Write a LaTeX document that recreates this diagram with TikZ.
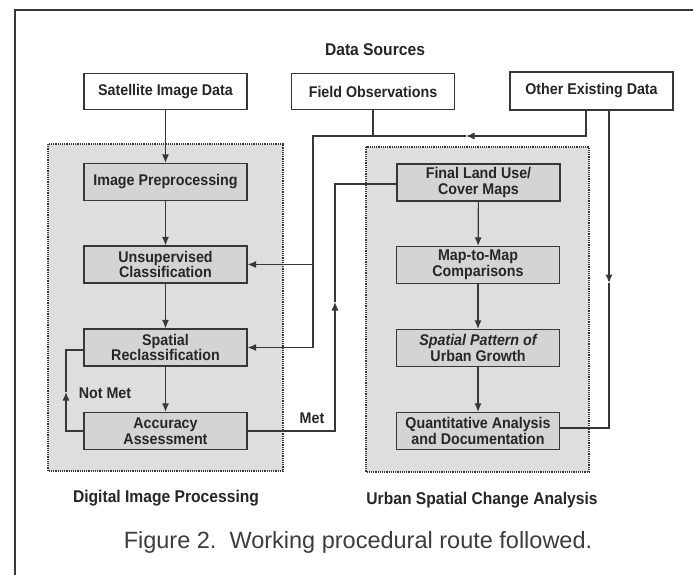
\documentclass[tikz,border=0pt]{standalone}
\usepackage{fontspec}
\setmainfont{Liberation Sans}
\newfontfamily\boxfont[FakeStretch=0.92]{Liberation Sans}
\usetikzlibrary{arrows.meta}
\definecolor{linegray}{RGB}{55,55,55}
\definecolor{panelgray}{RGB}{222,222,222}
\definecolor{boxgray}{RGB}{212,212,212}
\definecolor{captiongray}{RGB}{60,60,60}
\tikzset{
  srcbox/.style={draw=linegray, line width=1.2pt, fill=white, text=black!85,
    minimum width=163pt, minimum height=36pt, inner sep=0pt, align=center,
    font=\boxfont\bfseries\fontsize{15.5}{15.5}\selectfont},
  procbox/.style={srcbox, fill=boxgray, minimum height=37pt},
  panel/.style={draw=linegray, line width=1.2pt, densely dotted, fill=panelgray},
  title/.style={text=black!85, font=\boxfont\bfseries\fontsize{17}{17}\selectfont},
  tag/.style={text=black!85, font=\boxfont\bfseries\fontsize{15.5}{15.5}\selectfont},
  wire/.style={draw=linegray, line width=1.2pt},
  flow/.style={wire, -{Latex[length=8.5pt,width=7pt]}},
}
\begin{document}
\begin{tikzpicture}[x=1pt,y=-1pt]
	\useasboundingbox (0,0) rectangle (693,575);
	% page frame
	\draw[wire] (15,575) -- (15,10) -- (693,10);
	% the two shaded panels
	\filldraw[panel] (48,144) rectangle (283,471);
	\filldraw[panel] (366,147) rectangle (589,472);
	% data sources
	\node[title] (src) at (375,50) {Data Sources};
	\node[srcbox] (sat) at (165.5,91.5) {Satellite Image Data};
	\node[srcbox] (field) at (373,91.5) {Field Observations};
	\node[srcbox, minimum height=38pt] (other) at (591.5,91) {Other Existing Data};
	% digital image processing
	\node[procbox] (prep) at (165.5,182) {Image Preprocessing};
	\node[procbox] (unsup) at (165.5,264.5) {Unsupervised\\Classification};
	\node[procbox] (reclass) at (165.5,347.5) {Spatial\\Reclassification};
	\node[procbox] (accu) at (165.5,431) {Accuracy\\Assessment};
	% urban spatial change analysis
	\node[procbox] (final) at (478.5,182.5) {Final Land Use/\\Cover Maps};
	\node[procbox] (m2m) at (478,265) {Map-to-Map\\Comparisons};
	\node[procbox] (pattern) at (478,348) {{\itshape Spatial Pattern of}\\Urban Growth};
	\node[procbox] (quant) at (478,431) {Quantitative Analysis\\and Documentation};
	% labels
	\node[title] (dip) at (166,498) {Digital Image Processing};
	\node[title] (usca) at (482,500) {Urban Spatial Change Analysis};
	\node[tag] (notmet) at (105,393) {Not Met};
	\node[tag] (met) at (312,418) {Met};
	\node[text=captiongray, font=\fontsize{23.5}{23.5}\selectfont] (cap) at (358,542) {Figure 2.\ \ Working procedural route followed.};
	% main flow
	\draw[flow] (sat) -- (prep);
	\draw[flow] (prep) -- (unsup);
	\draw[flow] (unsup) -- (reclass);
	\draw[flow] (reclass) -- (accu);
	\draw[flow] (final) -- (m2m);
	\draw[flow] (m2m) -- (pattern);
	\draw[flow] (pattern) -- (quant);
	% field data and other data into classification
	\coordinate (busR) at (586,136);
	\coordinate (busL) at (313,136);
	\coordinate (busArr) at (466,136);
	\draw[wire] (field.south) -- (field.south |- busL);
	\draw[flow] (busR |- other.south) -- (busR) -- (busArr);
	\draw[wire] (busArr) -- (busL) -- (busL |- reclass.east);
	\draw[flow] (busL |- unsup.east) -- (unsup.east);
	\draw[flow] (busL |- reclass.east) -- (reclass.east);
	% met
	\coordinate (metX) at (335,184);
	\coordinate (metArr) at (335,302);
	\draw[flow] (accu.east) -- (accu.east -| metX) -- (metArr);
	\draw[wire] (metArr) -- (metX) -- (final.west |- metX);
	% not met
	\coordinate (nmArr) at (66,392);
	\draw[flow] (accu.west) -- (accu.west -| nmArr) -- (nmArr);
	\draw[wire] (nmArr) -- (nmArr |- 0,350) -- ([yshift=-2.5pt]reclass.west);
	% other data into quantitative analysis
	\coordinate (loopArr) at (609,283);
	\draw[flow] (loopArr |- other.south) -- (loopArr);
	\draw[wire] (loopArr) -- (loopArr |- 0,428) -- ([yshift=3pt]quant.east);
\end{tikzpicture}
\end{document}
